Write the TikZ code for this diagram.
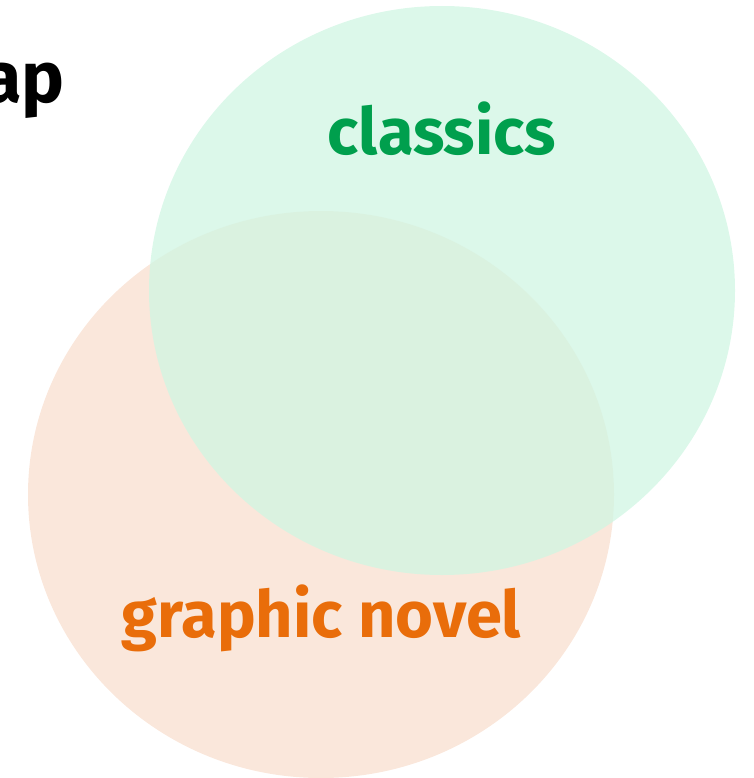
\documentclass[tikz,border=0pt]{standalone}
\usepackage{fontspec}
\setmainfont{Fira Sans}
\usepackage{xcolor}

\begin{document}
\begin{tikzpicture}[x=1bp,y=-1bp,
  setlabel/.style={font=\bfseries\fontsize{65bp}{69bp}\selectfont,inner sep=0,anchor=base}]
\definecolor{classicsfill}{HTML}{D0F6E3}
\definecolor{novelfill}{HTML}{FAE7DB}
\definecolor{classicsgreen}{HTML}{009F4D}
\definecolor{novelorange}{HTML}{E96D0A}
\useasboundingbox (0,0) rectangle (754,778);
\fill[novelfill] (321,494.5) ellipse [x radius=293, y radius=283.5];
\fill[classicsfill,fill opacity=0.75] (442,290.5) ellipse [x radius=293, y radius=284.5];
\node[setlabel,text=classicsgreen] (classics) at (442,154) {classics};
\node[setlabel,text=novelorange] (novel) at (321.5,637) {graphic novel};
\node[font=\bfseries\fontsize{72bp}{76bp}\selectfont,inner sep=0,anchor=base east] (title) at (65,102) {ap};
\end{tikzpicture}
\end{document}
